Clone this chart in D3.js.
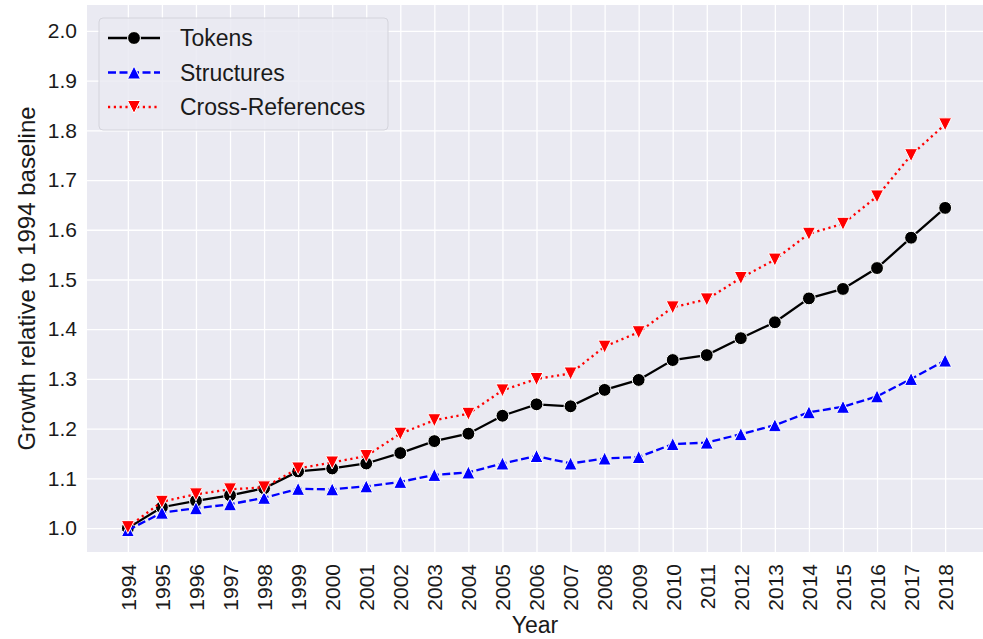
<!DOCTYPE html>
<html>
<head>
<meta charset="utf-8">
<script src="https://cdn.jsdelivr.net/npm/d3@7"></script>
<style>
  body { margin: 0; background: #fff; }
  svg { display: block; font-family: "Liberation Sans", Arial, sans-serif; }
</style>
</head>
<body>
<div id="chart"></div>
<script>
// data
const years = [1994, 1995, 1996, 1997, 1998, 1999, 2000, 2001, 2002, 2003, 2004, 2005,
  2006, 2007, 2008, 2009, 2010, 2011, 2012, 2013, 2014, 2015, 2016, 2017, 2018]
const tokens = [1.0, 1.042, 1.055, 1.066, 1.08, 1.114, 1.12, 1.13, 1.151, 1.175, 1.19, 1.226,
  1.249, 1.245, 1.278, 1.298, 1.338, 1.348, 1.382, 1.414, 1.462, 1.481, 1.523, 1.584, 1.644]
const structures = [0.996, 1.031, 1.04, 1.048, 1.061, 1.079, 1.078, 1.084, 1.093, 1.107, 1.112, 1.13,
  1.145, 1.13, 1.14, 1.143, 1.169, 1.172, 1.189, 1.207, 1.233, 1.244, 1.265, 1.3, 1.337]
const crossRefs = [1.002, 1.053, 1.068, 1.078, 1.082, 1.12, 1.132, 1.145, 1.19, 1.217, 1.23, 1.277,
  1.3, 1.311, 1.365, 1.394, 1.444, 1.46, 1.503, 1.54, 1.592, 1.612, 1.667, 1.75, 1.812]
const yTicks = [1.0, 1.1, 1.2, 1.3, 1.4, 1.5, 1.6, 1.7, 1.8, 1.9, 2.0]

const series = [
  { name: 'Tokens', values: tokens, color: '#000000', dash: null, marker: 'circle' },
  { name: 'Structures', values: structures, color: '#0000ff', dash: '8,3.5', marker: 'up' },
  { name: 'Cross-References', values: crossRefs, color: '#ff0000', dash: '2.2,3.6', marker: 'down' }
]

const width = 983
const height = 639
const plot = { left: 87, top: 5, right: 986, bottom: 552 }

const svg = d3.select('#chart')
  .append('svg')
  .attr('width', width)
  .attr('height', height)

// scales
const xScale = d3.scaleLinear()
  .domain([1992.8, 2019.2])
  .range([plot.left, plot.right])
const yScale = d3.scaleLinear()
  .domain([0.952, 2.052])
  .range([plot.bottom, plot.top])

// background
svg.append('rect')
  .attr('x', plot.left)
  .attr('y', plot.top)
  .attr('width', plot.right - plot.left)
  .attr('height', plot.bottom - plot.top)
  .attr('fill', '#eaeaf2')

// grid + tick labels through axes
const xAxis = d3.axisBottom(xScale)
  .tickValues(years)
  .tickFormat(d3.format('d'))
  .tickSize(-(plot.bottom - plot.top))
  .tickPadding(0)
const yAxis = d3.axisLeft(yScale)
  .tickValues(yTicks)
  .tickFormat(d3.format('.1f'))
  .tickSize(-(plot.right - plot.left))
  .tickPadding(10)

const gx = svg.append('g')
  .attr('transform', 'translate(0,' + plot.bottom + ')')
  .call(xAxis)
gx.select('.domain').remove()
gx.selectAll('.tick line').attr('stroke', '#fff').attr('stroke-width', 1.3)
gx.selectAll('.tick text')
  .attr('font-size', 21)
  .attr('fill', '#1a1a1a')
  .attr('transform', 'rotate(-90)')
  .attr('x', -12)
  .attr('y', 0)
  .attr('dy', '0.35em')
  .attr('text-anchor', 'end')

const gy = svg.append('g')
  .attr('transform', 'translate(' + plot.left + ',0)')
  .call(yAxis)
gy.select('.domain').remove()
gy.selectAll('.tick line').attr('stroke', '#fff').attr('stroke-width', 1.3)
gy.selectAll('.tick text')
  .attr('font-size', 21)
  .attr('fill', '#1a1a1a')

// axis titles
svg.append('text')
  .attr('x', (plot.left + 983) / 2)
  .attr('y', 633)
  .attr('text-anchor', 'middle')
  .attr('font-size', 23)
  .attr('fill', '#1a1a1a')
  .text('Year')
svg.append('text')
  .attr('transform', 'translate(35,' + (plot.top + plot.bottom) / 2 + ') rotate(-90)')
  .attr('text-anchor', 'middle')
  .attr('font-size', 24)
  .attr('fill', '#1a1a1a')
  .text('Growth relative to 1994 baseline')

// marker shapes
const markerPath = (type) => {
  if (type === 'circle') return d3.symbol(d3.symbolCircle, 130)()
  const s = 6.5
  if (type === 'up') return `M0,${-s}L${s},${s}L${-s},${s}Z`
  return `M0,${s}L${s},${-s}L${-s},${-s}Z`
}

const line = d3.line()
  .x((d, i) => xScale(years[i]))
  .y(d => yScale(d))

series.forEach(s => {
  const g = svg.append('g')
  g.append('path')
    .datum(s.values)
    .attr('d', line)
    .attr('fill', 'none')
    .attr('stroke', s.color)
    .attr('stroke-width', 2.3)
    .attr('stroke-dasharray', s.dash)
  g.selectAll('path.mark')
    .data(s.values)
    .enter()
    .append('path')
    .attr('class', 'mark')
    .attr('d', markerPath(s.marker))
    .attr('transform', (d, i) => 'translate(' + xScale(years[i]) + ',' + yScale(d) + ')')
    .attr('fill', s.color)
    .attr('stroke', '#fff')
    .attr('stroke-width', 1)
})

// legend
const legend = svg.append('g').attr('transform', 'translate(99,18)')
legend.append('rect')
  .attr('width', 289)
  .attr('height', 112)
  .attr('rx', 4)
  .attr('fill', '#eaeaf2')
  .attr('fill-opacity', 0.85)
  .attr('stroke', '#d4d4dc')
  .attr('stroke-width', 1)

series.forEach((s, i) => {
  const row = legend.append('g').attr('transform', 'translate(0,' + (20 + i * 34.5) + ')')
  row.append('line')
    .attr('x1', 9).attr('x2', 61)
    .attr('stroke', s.color)
    .attr('stroke-width', 2.3)
    .attr('stroke-dasharray', s.dash)
  row.append('path')
    .attr('d', markerPath(s.marker))
    .attr('transform', 'translate(35,0)')
    .attr('fill', s.color)
    .attr('stroke', '#fff')
    .attr('stroke-width', 1)
  row.append('text')
    .attr('x', 81)
    .attr('dy', '0.35em')
    .attr('font-size', 23)
    .attr('fill', '#1a1a1a')
    .text(s.name)
})
</script>
</body>
</html>
